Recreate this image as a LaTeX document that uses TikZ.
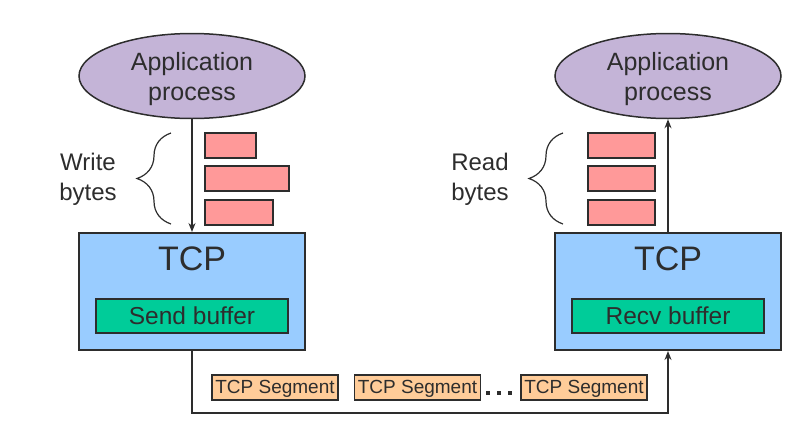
\documentclass[tikz,border=0pt]{standalone}
\usepackage{fontspec}
\setmainfont{Liberation Sans}
\usetikzlibrary{shapes.geometric,decorations.pathreplacing,arrows.meta}
\definecolor{apppurple}{RGB}{196,180,215}
\definecolor{tcpblue}{RGB}{153,204,255}
\definecolor{bufgreen}{RGB}{0,204,153}
\definecolor{bytepink}{RGB}{255,153,153}
\definecolor{segorange}{RGB}{255,204,153}
\definecolor{edge}{RGB}{45,45,45}
\tikzset{
  app/.style={ellipse, draw=edge, line width=1.5pt, fill=apppurple, minimum width=226pt, minimum height=85pt, inner sep=0pt, align=center, font=\fontsize{25}{30.5}\selectfont, text=edge},
  tcpbox/.style={rectangle, draw=edge, line width=2pt, fill=tcpblue, minimum width=226pt, minimum height=117pt, inner sep=0pt},
  bufbox/.style={rectangle, draw=edge, line width=2pt, fill=bufgreen, minimum width=192pt, minimum height=34pt, inner sep=0pt, font=\fontsize{24.5}{26}\selectfont, text=edge},
  bytebox/.style={rectangle, draw=edge, line width=2pt, fill=bytepink, minimum height=25pt, inner sep=0pt},
  segbox/.style={rectangle, draw=edge, line width=1.5pt, fill=segorange, minimum width=126pt, minimum height=25pt, inner sep=0pt, text height=14pt, text depth=2pt, font=\fontsize{19}{21}\selectfont, text=edge},
  lbl/.style={align=center, font=\fontsize{24}{30}\selectfont, text=edge},
  bigtcp/.style={font=\fontsize{34}{36}\selectfont, text=edge},
  flow/.style={draw=edge, line width=1.5pt, -{Stealth[length=9pt,width=7pt]}},
  bracestyle/.style={draw=edge, line width=1.2pt, decorate, decoration={brace, amplitude=34pt}}
}
\begin{document}
\begin{tikzpicture}[x=1pt,y=-1pt]
\useasboundingbox (0,0) rectangle (809,429);
% left side
\node[app] (appL) at (192,76) {};
\node[lbl, font=\fontsize{25}{30.5}\selectfont] (appLtxt) at (192,79) {Application\\process};
\node[tcpbox] (tcpL) at (192,291.5) {};
\node[bigtcp] (tcpLtxt) at (192,259) {TCP};
\node[bufbox] (sendbuf) at (192,316) {Send buffer};
\node[bytebox, minimum width=51pt] (wb1) at (230,145.5) {};
\node[bytebox, minimum width=84pt] (wb2) at (246.5,178.5) {};
\node[bytebox, minimum width=68pt] (wb3) at (238.5,212) {};
\coordinate (braceLa) at (171,224);
\coordinate (braceLb) at (171,133);
\draw[bracestyle] (braceLa) -- (braceLb);
\node[lbl] (writelbl) at (88,179) {Write\\bytes};
\draw[flow] (appL.south) -- (tcpL.north);
% right side
\node[app] (appR) at (668,76) {};
\node[lbl, font=\fontsize{25}{30.5}\selectfont] (appRtxt) at (668,79) {Application\\process};
\node[tcpbox] (tcpR) at (668,291.5) {};
\node[bigtcp] (tcpRtxt) at (668,259) {TCP};
\node[bufbox] (recvbuf) at (668,316) {Recv buffer};
\node[bytebox, minimum width=67pt] (rb1) at (621.5,145.5) {};
\node[bytebox, minimum width=67pt] (rb2) at (621.5,178.5) {};
\node[bytebox, minimum width=67pt] (rb3) at (621.5,212) {};
\coordinate (braceRa) at (563,224);
\coordinate (braceRb) at (563,133);
\draw[bracestyle] (braceRa) -- (braceRb);
\node[lbl] (readlbl) at (480,179) {Read\\bytes};
\draw[flow] (tcpR.north) -- (appR.south);
% bottom
\draw[flow] (tcpL.south) -- ++(0,62) -| (tcpR.south);
\node[segbox] (seg1) at (275,387.5) {TCP Segment};
\node[segbox] (seg2) at (417.5,387.5) {TCP Segment};
\node[segbox] (seg3) at (584,387.5) {TCP Segment};
\foreach \xx [count=\i] in {488,499,510}{
  \node[fill=edge, minimum size=3.5pt, inner sep=0pt] (dot\i) at (\xx,393) {};
}
\end{tikzpicture}
\end{document}
